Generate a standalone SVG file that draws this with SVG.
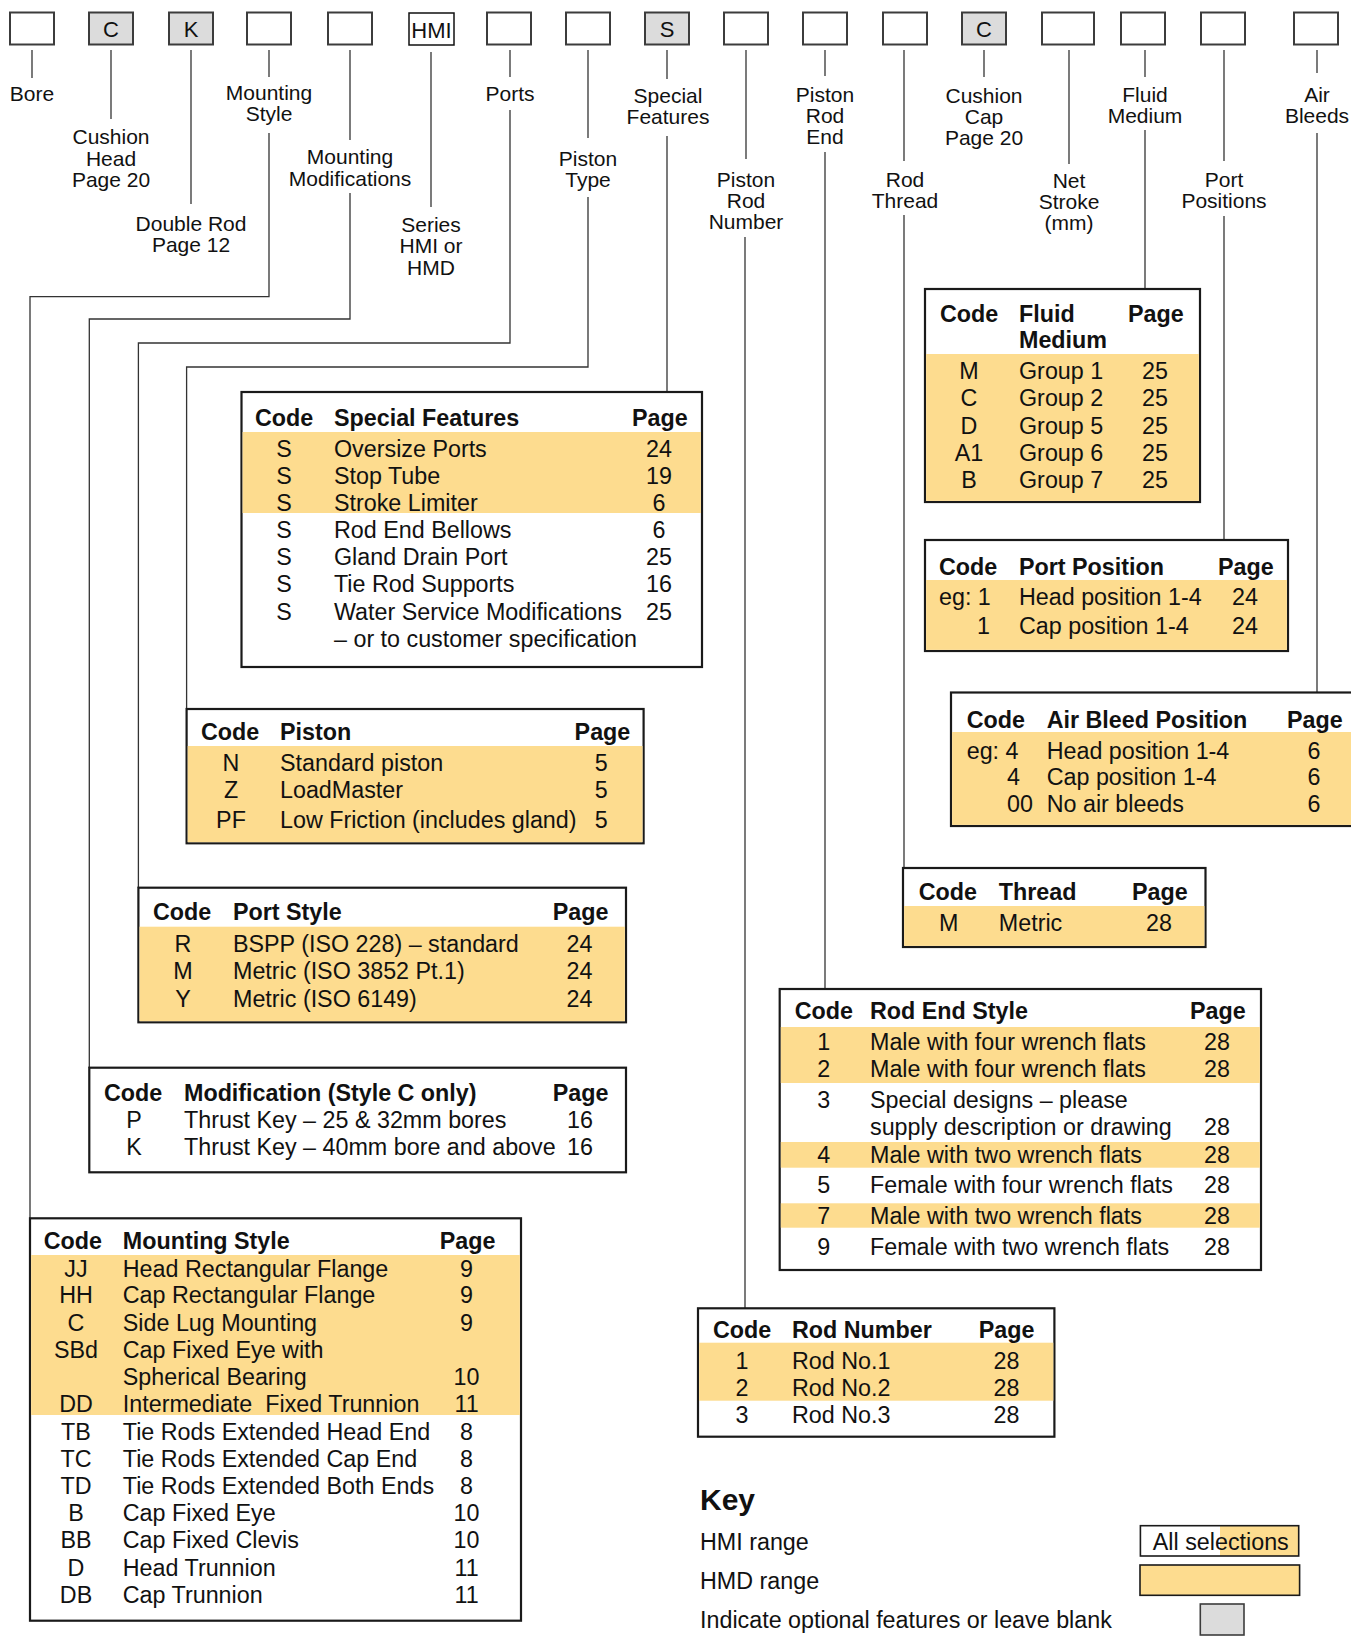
<svg xmlns="http://www.w3.org/2000/svg" width="1351" height="1638" viewBox="0 0 1351 1638">
<style>
text{font-family:"Liberation Sans",Arial,Helvetica,sans-serif;fill:#111}
.lbl{font-size:21px;text-anchor:middle}
.bt{font-size:22px;text-anchor:middle}
.box{fill:#fff;stroke:#3c3c3c;stroke-width:2}
.opt{fill:#dcdcdc}
.hmi{stroke:#111;stroke-width:1.5}
.tb{fill:#fff;stroke:#1a1a1a;stroke-width:2.2}
.hl{fill:#fddc8f}
.th{font-size:23.3px;font-weight:bold}
.td{font-size:23.3px}
.c{text-anchor:middle}
.conn{fill:none;stroke:#333;stroke-width:1.3}
</style>

<g id="code-boxes">
<g id="b-bore"><rect class="box" x="10" y="12.5" width="44" height="32"/></g>
<g id="b-cushion-head"><rect class="box opt" x="89" y="12.5" width="44" height="32"/><text class="bt" x="111" y="36.5">C</text></g>
<g id="b-double-rod"><rect class="box opt" x="169" y="12.5" width="44" height="32"/><text class="bt" x="191" y="36.5">K</text></g>
<g id="b-mounting-style"><rect class="box" x="247" y="12.5" width="44" height="32"/></g>
<g id="b-mounting-mod"><rect class="box" x="328" y="12.5" width="44" height="32"/></g>
<g id="b-series"><rect class="box hmi" x="409" y="13" width="45" height="32"/><text class="bt" x="431.5" y="37.5">HMI</text></g>
<g id="b-ports"><rect class="box" x="487" y="12.5" width="44" height="32"/></g>
<g id="b-piston"><rect class="box" x="566" y="12.5" width="44" height="32"/></g>
<g id="b-special"><rect class="box opt" x="645" y="12.5" width="44" height="32"/><text class="bt" x="667" y="36.5">S</text></g>
<g id="b-rod-number"><rect class="box" x="724" y="12.5" width="44" height="32"/></g>
<g id="b-rod-end"><rect class="box" x="803" y="12.5" width="44" height="32"/></g>
<g id="b-rod-thread"><rect class="box" x="883" y="12.5" width="44" height="32"/></g>
<g id="b-cushion-cap"><rect class="box opt" x="962" y="12.5" width="44" height="32"/><text class="bt" x="984" y="36.5">C</text></g>
<g id="b-net-stroke"><rect class="box" x="1042" y="12.5" width="52" height="32"/></g>
<g id="b-fluid"><rect class="box" x="1121" y="12.5" width="44" height="32"/></g>
<g id="b-port-pos"><rect class="box" x="1201" y="12.5" width="44" height="32"/></g>
<g id="b-air"><rect class="box" x="1294" y="12.5" width="44" height="32"/></g>
</g>

<g id="labels">
<text class="lbl" x="32" y="101">Bore</text>
<text class="lbl" x="111" y="144">Cushion</text><text class="lbl" x="111" y="166">Head</text><text class="lbl" x="111" y="187">Page 20</text>
<text class="lbl" x="191" y="231">Double Rod</text><text class="lbl" x="191" y="252">Page 12</text>
<text class="lbl" x="269" y="100">Mounting</text><text class="lbl" x="269" y="121">Style</text>
<text class="lbl" x="350" y="164">Mounting</text><text class="lbl" x="350" y="186">Modifications</text>
<text class="lbl" x="431" y="232">Series</text><text class="lbl" x="431" y="253">HMI or</text><text class="lbl" x="431" y="275">HMD</text>
<text class="lbl" x="510" y="101">Ports</text>
<text class="lbl" x="588" y="166">Piston</text><text class="lbl" x="588" y="187">Type</text>
<text class="lbl" x="668" y="103">Special</text><text class="lbl" x="668" y="124">Features</text>
<text class="lbl" x="746" y="187">Piston</text><text class="lbl" x="746" y="208">Rod</text><text class="lbl" x="746" y="229">Number</text>
<text class="lbl" x="825" y="102">Piston</text><text class="lbl" x="825" y="123">Rod</text><text class="lbl" x="825" y="144">End</text>
<text class="lbl" x="905" y="187">Rod</text><text class="lbl" x="905" y="208">Thread</text>
<text class="lbl" x="984" y="103">Cushion</text><text class="lbl" x="984" y="124">Cap</text><text class="lbl" x="984" y="145">Page 20</text>
<text class="lbl" x="1069" y="188">Net</text><text class="lbl" x="1069" y="209">Stroke</text><text class="lbl" x="1069" y="230">(mm)</text>
<text class="lbl" x="1145" y="102">Fluid</text><text class="lbl" x="1145" y="123">Medium</text>
<text class="lbl" x="1224" y="187">Port</text><text class="lbl" x="1224" y="208">Positions</text>
<text class="lbl" x="1317" y="102">Air</text><text class="lbl" x="1317" y="123">Bleeds</text>
</g>

<g id="connectors" class="conn">
<path d="M32 50V78"/>
<path d="M111 50V119"/>
<path d="M191 50V204"/>
<path d="M269 50V77"/><path d="M269 133V296.7H30V1218"/>
<path d="M350 50V140"/><path d="M350 193V319H89.3V1068"/>
<path d="M431 52V207"/>
<path d="M510 50V77"/><path d="M510 110V343H138.4V888"/>
<path d="M588 50V138"/><path d="M588 197V367H186.6V709"/>
<path d="M667 50V79"/><path d="M667 136V392"/>
<path d="M746 50V159"/><path d="M745 237V1308"/>
<path d="M825 50V76"/><path d="M825 152V989"/>
<path d="M904 50V161"/><path d="M904 215V868"/>
<path d="M984 50V77"/>
<path d="M1069 50V164"/>
<path d="M1145 50V77"/><path d="M1145 130V289"/>
<path d="M1224 50V161"/><path d="M1224 216V540"/>
<path d="M1317 50V73"/><path d="M1317 133V692"/>
</g>

<g id="t-special">
<rect class="tb" x="241.5" y="392" width="460.5" height="275"/>
<rect class="hl" x="242.6" y="432" width="458.3" height="81"/>
<text class="th" x="255" y="426">Code</text><text class="th" x="334" y="426">Special Features</text><text class="th" x="632" y="426">Page</text>
<g class="td">
<text class="c" x="284" y="457">S</text><text x="334" y="457">Oversize Ports</text><text class="c" x="659" y="457">24</text>
<text class="c" x="284" y="484">S</text><text x="334" y="484">Stop Tube</text><text class="c" x="659" y="484">19</text>
<text class="c" x="284" y="511">S</text><text x="334" y="511">Stroke Limiter</text><text class="c" x="659" y="511">6</text>
<text class="c" x="284" y="538">S</text><text x="334" y="538">Rod End Bellows</text><text class="c" x="659" y="538">6</text>
<text class="c" x="284" y="565">S</text><text x="334" y="565">Gland Drain Port</text><text class="c" x="659" y="565">25</text>
<text class="c" x="284" y="592">S</text><text x="334" y="592">Tie Rod Supports</text><text class="c" x="659" y="592">16</text>
<text class="c" x="284" y="620">S</text><text x="334" y="620">Water Service Modifications</text><text class="c" x="659" y="620">25</text>
<text x="334" y="647">– or to customer specification</text>
</g>
</g>

<g id="t-piston">
<rect class="tb" x="186.6" y="709" width="457" height="134.3"/>
<rect class="hl" x="187.7" y="746" width="454.8" height="96.2"/>
<text class="th" x="201" y="740">Code</text><text class="th" x="280" y="740">Piston</text><text class="th" x="574.6" y="740">Page</text>
<g class="td">
<text class="c" x="231" y="770.7">N</text><text x="280" y="770.7">Standard piston</text><text class="c" x="601.3" y="770.7">5</text>
<text class="c" x="231" y="798.3">Z</text><text x="280" y="798.3">LoadMaster</text><text class="c" x="601.3" y="798.3">5</text>
<text class="c" x="231" y="828.3">PF</text><text x="280" y="828.3">Low Friction (includes gland)</text><text class="c" x="601.3" y="828.3">5</text>
</g>
</g>

<g id="t-port-style">
<rect class="tb" x="138.4" y="887.7" width="487.6" height="134.6"/>
<rect class="hl" x="139.5" y="926.7" width="485.4" height="94.5"/>
<text class="th" x="153" y="920">Code</text><text class="th" x="233" y="920">Port Style</text><text class="th" x="552.7" y="920">Page</text>
<g class="td">
<text class="c" x="183" y="951.7">R</text><text x="233" y="951.7">BSPP (ISO 228) – standard</text><text class="c" x="579.5" y="951.7">24</text>
<text class="c" x="183" y="979">M</text><text x="233" y="979">Metric (ISO 3852 Pt.1)</text><text class="c" x="579.5" y="979">24</text>
<text class="c" x="183" y="1006.7">Y</text><text x="233" y="1006.7">Metric (ISO 6149)</text><text class="c" x="579.5" y="1006.7">24</text>
</g>
</g>

<g id="t-modification">
<rect class="tb" x="89.3" y="1067.7" width="536.7" height="104.6"/>
<text class="th" x="104" y="1100.7">Code</text><text class="th" x="184" y="1100.7">Modification (Style C only)</text><text class="th" x="552.7" y="1100.7">Page</text>
<g class="td">
<text class="c" x="134" y="1128.3">P</text><text x="184" y="1128.3">Thrust Key – 25 &amp; 32mm bores</text><text class="c" x="580" y="1128.3">16</text>
<text class="c" x="134" y="1155">K</text><text x="184" y="1155">Thrust Key – 40mm bore and above</text><text class="c" x="580" y="1155">16</text>
</g>
</g>

<g id="t-mounting-style">
<rect class="tb" x="30" y="1218.3" width="491" height="402.4"/>
<rect class="hl" x="31.1" y="1255" width="488.8" height="160"/>
<text class="th" x="43.8" y="1249">Code</text><text class="th" x="122.8" y="1249">Mounting Style</text><text class="th" x="439.7" y="1249">Page</text>
<g class="td">
<text class="c" x="76" y="1276.7">JJ</text><text x="122.8" y="1276.7">Head Rectangular Flange</text><text class="c" x="466.5" y="1276.7">9</text>
<text class="c" x="76" y="1303.3">HH</text><text x="122.8" y="1303.3">Cap Rectangular Flange</text><text class="c" x="466.5" y="1303.3">9</text>
<text class="c" x="76" y="1331">C</text><text x="122.8" y="1331">Side Lug Mounting</text><text class="c" x="466.5" y="1331">9</text>
<text class="c" x="76" y="1358.3">SBd</text><text x="122.8" y="1358.3">Cap Fixed Eye with</text>
<text x="122.8" y="1385">Spherical Bearing</text><text class="c" x="466.5" y="1385">10</text>
<text class="c" x="76" y="1411.7">DD</text><text x="122.8" y="1411.7" style="white-space:pre">Intermediate  Fixed Trunnion</text><text class="c" x="466.5" y="1411.7">11</text>
<text class="c" x="76" y="1440">TB</text><text x="122.8" y="1440">Tie Rods Extended Head End</text><text class="c" x="466.5" y="1440">8</text>
<text class="c" x="76" y="1467.3">TC</text><text x="122.8" y="1467.3">Tie Rods Extended Cap End</text><text class="c" x="466.5" y="1467.3">8</text>
<text class="c" x="76" y="1494">TD</text><text x="122.8" y="1494">Tie Rods Extended Both Ends</text><text class="c" x="466.5" y="1494">8</text>
<text class="c" x="76" y="1520.7">B</text><text x="122.8" y="1520.7">Cap Fixed Eye</text><text class="c" x="466.5" y="1520.7">10</text>
<text class="c" x="76" y="1548.3">BB</text><text x="122.8" y="1548.3">Cap Fixed Clevis</text><text class="c" x="466.5" y="1548.3">10</text>
<text class="c" x="76" y="1575.7">D</text><text x="122.8" y="1575.7">Head Trunnion</text><text class="c" x="466.5" y="1575.7">11</text>
<text class="c" x="76" y="1603.3">DB</text><text x="122.8" y="1603.3">Cap Trunnion</text><text class="c" x="466.5" y="1603.3">11</text>
</g>
</g>

<g id="t-fluid">
<rect class="tb" x="925" y="289" width="275" height="213"/>
<rect class="hl" x="926.1" y="354" width="272.8" height="146.9"/>
<text class="th" x="940" y="322">Code</text><text class="th" x="1019" y="322">Fluid</text><text class="th" x="1019" y="348">Medium</text><text class="th" x="1128" y="322">Page</text>
<g class="td">
<text class="c" x="969" y="379">M</text><text x="1019" y="379">Group 1</text><text class="c" x="1155" y="379">25</text>
<text class="c" x="969" y="406">C</text><text x="1019" y="406">Group 2</text><text class="c" x="1155" y="406">25</text>
<text class="c" x="969" y="434">D</text><text x="1019" y="434">Group 5</text><text class="c" x="1155" y="434">25</text>
<text class="c" x="969" y="461">A1</text><text x="1019" y="461">Group 6</text><text class="c" x="1155" y="461">25</text>
<text class="c" x="969" y="488">B</text><text x="1019" y="488">Group 7</text><text class="c" x="1155" y="488">25</text>
</g>
</g>

<g id="t-port-position">
<rect class="tb" x="925" y="540" width="363" height="111"/>
<rect class="hl" x="926.1" y="580" width="360.8" height="69.9"/>
<text class="th" x="939" y="575">Code</text><text class="th" x="1019" y="575">Port Position</text><text class="th" x="1218" y="575">Page</text>
<g class="td">
<text x="939" y="605">eg: 1</text><text x="1019" y="605">Head position 1-4</text><text class="c" x="1245" y="605">24</text>
<text x="977" y="634">1</text><text x="1019" y="634">Cap position 1-4</text><text class="c" x="1245" y="634">24</text>
</g>
</g>

<g id="t-air-bleed">
<rect class="tb" x="951" y="692.5" width="420" height="133.5"/>
<rect class="hl" x="952.1" y="732" width="418" height="92.9"/>
<text class="th" x="966.7" y="727.5">Code</text><text class="th" x="1046.7" y="727.5">Air Bleed Position</text><text class="th" x="1287" y="727.5">Page</text>
<g class="td">
<text x="966.7" y="758.6">eg: 4</text><text x="1046.7" y="758.6">Head position 1-4</text><text class="c" x="1314" y="758.6">6</text>
<text x="1007" y="785">4</text><text x="1046.7" y="785">Cap position 1-4</text><text class="c" x="1314" y="785">6</text>
<text x="1007" y="812">00</text><text x="1046.7" y="812">No air bleeds</text><text class="c" x="1314" y="812">6</text>
</g>
</g>

<g id="t-thread">
<rect class="tb" x="903" y="868" width="302.5" height="79"/>
<rect class="hl" x="904.1" y="906" width="300.3" height="39.9"/>
<text class="th" x="918.8" y="900">Code</text><text class="th" x="998.8" y="900">Thread</text><text class="th" x="1132" y="900">Page</text>
<g class="td">
<text class="c" x="948.7" y="930.7">M</text><text x="998.8" y="930.7">Metric</text><text class="c" x="1159" y="930.7">28</text>
</g>
</g>

<g id="t-rod-end">
<rect class="tb" x="779.7" y="989" width="481.3" height="281"/>
<rect class="hl" x="780.8" y="1027" width="479.1" height="56"/>
<rect class="hl" x="780.8" y="1142" width="479.1" height="25.7"/>
<rect class="hl" x="780.8" y="1203.3" width="479.1" height="24.4"/>
<text class="th" x="794.7" y="1019">Code</text><text class="th" x="870" y="1019">Rod End Style</text><text class="th" x="1190" y="1019">Page</text>
<g class="td">
<text class="c" x="823.8" y="1050">1</text><text x="870" y="1050">Male with four wrench flats</text><text class="c" x="1217" y="1050">28</text>
<text class="c" x="823.8" y="1077.3">2</text><text x="870" y="1077.3">Male with four wrench flats</text><text class="c" x="1217" y="1077.3">28</text>
<text class="c" x="823.8" y="1108.3">3</text><text x="870" y="1108.3">Special designs – please</text>
<text x="870" y="1135">supply description or drawing</text><text class="c" x="1217" y="1135">28</text>
<text class="c" x="823.8" y="1162.7">4</text><text x="870" y="1162.7">Male with two wrench flats</text><text class="c" x="1217" y="1162.7">28</text>
<text class="c" x="823.8" y="1193.3">5</text><text x="870" y="1193.3">Female with four wrench flats</text><text class="c" x="1217" y="1193.3">28</text>
<text class="c" x="823.8" y="1224.3">7</text><text x="870" y="1224.3">Male with two wrench flats</text><text class="c" x="1217" y="1224.3">28</text>
<text class="c" x="823.8" y="1255">9</text><text x="870" y="1255">Female with two wrench flats</text><text class="c" x="1217" y="1255">28</text>
</g>
</g>

<g id="t-rod-number">
<rect class="tb" x="698" y="1308.3" width="356.4" height="128.4"/>
<rect class="hl" x="699.1" y="1342.7" width="354.2" height="58"/>
<text class="th" x="713" y="1338.3">Code</text><text class="th" x="792" y="1338.3">Rod Number</text><text class="th" x="978.7" y="1338.3">Page</text>
<g class="td">
<text class="c" x="742" y="1369.3">1</text><text x="792" y="1369.3">Rod No.1</text><text class="c" x="1006.5" y="1369.3">28</text>
<text class="c" x="742" y="1396">2</text><text x="792" y="1396">Rod No.2</text><text class="c" x="1006.5" y="1396">28</text>
<text class="c" x="742" y="1422.7">3</text><text x="792" y="1422.7">Rod No.3</text><text class="c" x="1006.5" y="1422.7">28</text>
</g>
</g>

<g id="key">
<text x="700" y="1510" style="font-size:30px;font-weight:bold">Key</text>
<text class="td" x="700" y="1550">HMI range</text>
<text class="td" x="700" y="1589.3">HMD range</text>
<text class="td" x="700" y="1628.3">Indicate optional features or leave blank</text>
<rect x="1140.4" y="1525.7" width="158.3" height="30.3" fill="#fff"/>
<rect class="hl" x="1220" y="1525.7" width="78.7" height="30.3"/>
<rect x="1140.4" y="1525.7" width="158.3" height="30.3" fill="none" stroke="#1a1a1a" stroke-width="1.6"/>
<text class="td" x="1152.8" y="1550">All selections</text>
<rect class="hl" x="1140" y="1565" width="159.6" height="30.3" stroke="#1a1a1a" stroke-width="1.6"/>
<rect x="1200.3" y="1604" width="43.7" height="31" fill="#dcdcdc" stroke="#3c3c3c" stroke-width="1.6"/>
</g>
</svg>
